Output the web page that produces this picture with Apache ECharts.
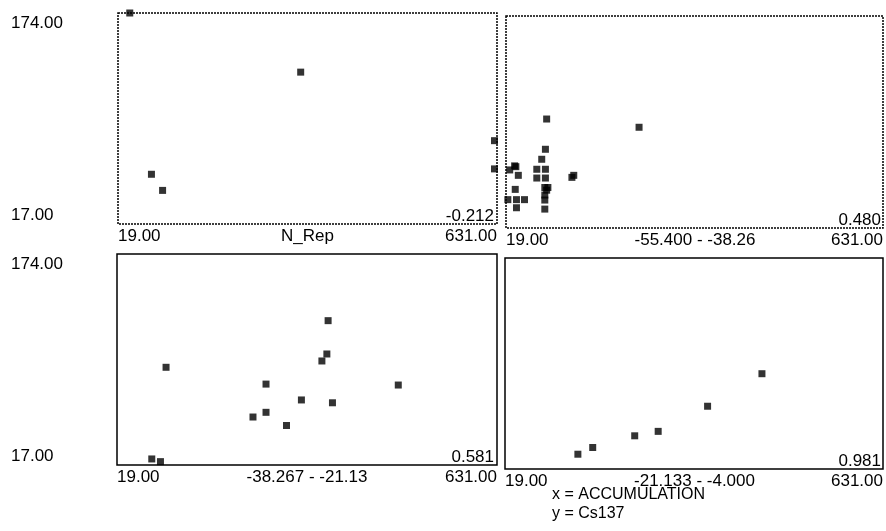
<!DOCTYPE html>
<html>
<head>
<meta charset="utf-8">
<script src="https://cdn.jsdelivr.net/npm/echarts@6/dist/echarts.min.js"></script>
<style>
html,body{margin:0;padding:0;background:#fff;}
#chart{width:886px;height:531px;}
</style>
</head>
<body>
<div id="chart"></div>
<script>
// ---- data ----
var xMin = 19, xMax = 631;
var yMin = 17, yMax = 174;
var panelNames = ['N_Rep', '-55.400 - -38.26', '-38.267 - -21.13', '-21.133 - -4.000'];
var corrValues = ['-0.212', '0.480', '0.581', '0.981'];
var footerLines = ['x = ACCUMULATION', 'y = Cs137'];

var p1x = [38, 314, 73, 91, 627, 627];
var p1y = [174, 130, 54, 42, 79, 58];

var p2x = [85, 83, 77, 69, 83, 69, 83, 82, 87, 85, 82, 82, 82, 126, 129, 35, 25, 33, 39, 34, 22, 36, 49, 36, 235];
var p2y = [97.7, 75.3, 67.9, 60.5, 60.5, 54, 54, 47, 47, 45, 41.4, 37.7, 31, 54.5, 56, 62.4, 60, 63, 56, 45.6, 38, 38, 38, 32, 91.6];

var p3x = [75, 89, 98, 238, 259, 259, 292, 316, 349, 357, 359, 366, 472];
var p3y = [21.5, 19.5, 89.7, 52.7, 56.2, 77.2, 46.4, 65.4, 94.4, 99.6, 124.4, 63.3, 76.5];

var p4x = [137, 161, 229, 267, 347, 435];
var p4y = [28, 33, 41.7, 45, 63.7, 87.9];

var seriesX = [p1x, p2x, p3x, p4x];
var seriesY = [p1y, p2y, p3y, p4y];

// ---- layout ----
var panels = [
  {left: 118, top: 13, width: 379, height: 211, showY: true, dotted: true},
  {left: 506, top: 16, width: 378, height: 212, showY: false, dotted: true},
  {left: 117, top: 254, width: 380, height: 211, showY: true, dotted: false},
  {left: 505, top: 258, width: 379, height: 211, showY: false, dotted: false}
];
var FONT = '"Liberation Sans", Arial, sans-serif';
var FS = 17;
var TXT = '#000';

function fmtEnds(min, max) {
  return function (v) {
    if (Math.abs(v - min) < 1e-6 || Math.abs(v - max) < 1e-6) return v.toFixed(2);
    return '';
  };
}

var grids = [], xAxes = [], yAxes = [], series = [], graphics = [];
panels.forEach(function (p, i) {
  grids.push({left: p.left, top: p.top, width: p.width, height: p.height,
    show: true, borderColor: '#000', borderWidth: 1.5,
    borderType: p.dotted ? [2, 1] : 'solid', backgroundColor: 'transparent'});
  xAxes.push({
    type: 'value', gridIndex: i, min: xMin, max: xMax,
    axisLine: {show: false}, axisTick: {show: false}, splitLine: {show: false},
    axisLabel: {show: true, showMinLabel: true, showMaxLabel: true, margin: 4,
      formatter: fmtEnds(xMin, xMax), fontFamily: FONT, fontSize: FS, color: TXT,
      alignMinLabel: 'left', alignMaxLabel: 'right', verticalAlign: 'top'}
  });
  yAxes.push({
    type: 'value', gridIndex: i, min: yMin, max: yMax,
    axisLine: {show: false}, axisTick: {show: false}, splitLine: {show: false},
    axisLabel: {show: p.showY, showMinLabel: true, showMaxLabel: true, margin: p.left - 11,
      align: 'left', formatter: fmtEnds(yMin, yMax), fontFamily: FONT, fontSize: FS, color: TXT,
      verticalAlignMinLabel: 'bottom', verticalAlignMaxLabel: 'top', padding: [2, 0, 0, 0]}
  });
  var data = seriesX[i].map(function (x, k) { return [x, seriesY[i][k]]; });
  series.push({
    type: 'scatter', xAxisIndex: i, yAxisIndex: i, data: data,
    symbol: 'rect', symbolSize: 7, itemStyle: {color: '#000'}, clip: false, silent: true
  });
  // correlation value in bottom-right corner
  graphics.push({
    type: 'text', x: p.left + p.width - 3, y: p.top + p.height - 8,
    style: {text: corrValues[i], font: FS + 'px ' + FONT, fill: TXT,
      textAlign: 'right', textVerticalAlign: 'middle'}
  });
  // panel name centred under the panel
  graphics.push({
    type: 'text', x: p.left + p.width / 2, y: p.top + p.height + 12,
    style: {text: panelNames[i], font: FS + 'px ' + FONT, fill: TXT,
      textAlign: 'center', textVerticalAlign: 'middle'}
  });
});

graphics.push({
  type: 'text', x: 552, y: 495,
  style: {text: footerLines[0], font: '16px ' + FONT, fill: TXT, textVerticalAlign: 'middle'}
});
graphics.push({
  type: 'text', x: 552, y: 514,
  style: {text: footerLines[1], font: '16px ' + FONT, fill: TXT, textVerticalAlign: 'middle'}
});

var chart = echarts.init(document.getElementById('chart'), null, {renderer: 'canvas'});
chart.setOption({
  animation: false,
  backgroundColor: '#fff',
  grid: grids, xAxis: xAxes, yAxis: yAxes, series: series, graphic: graphics
});
</script>
</body>
</html>
